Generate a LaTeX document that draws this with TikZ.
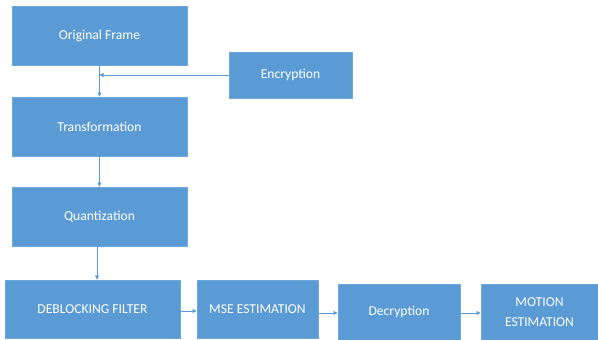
\documentclass[tikz,border=0pt]{standalone}
\usepackage{fontspec}
\setmainfont{Carlito}
\usetikzlibrary{arrows.meta}
\definecolor{boxblue}{HTML}{5B9BD5}
\definecolor{boxedge}{HTML}{6FA8DC}
\definecolor{linkblue}{HTML}{5B9BD5}
\tikzset{
  stepbox/.style={draw=boxedge, line width=0.8pt, fill=boxblue, text=white, font=\fontsize{13.6}{20}\selectfont, align=center, inner sep=0pt},
  link/.style={draw=linkblue, line width=0.6pt, -{Triangle[length=4pt,width=4pt]}},
  plain/.style={draw=linkblue, line width=0.6pt}
}
\begin{document}
\begin{tikzpicture}[x=1pt,y=-1pt]
\useasboundingbox (0,0) rectangle (598,340);
\node[stepbox, minimum width=175pt, minimum height=59pt] (orig) at (99.5,35.5) {Original Frame};
\node[stepbox, minimum width=123pt, minimum height=46pt] (enc) at (290.5,75) {Encryption};
\node[stepbox, minimum width=175pt, minimum height=59pt] (trans) at (99.5,126.5) {Transformation};
\node[stepbox, minimum width=175pt, minimum height=59pt] (quant) at (99.5,216.5) {Quantization};
\node[stepbox, minimum width=175pt, minimum height=58pt] (deblock) at (92.5,309) {DEBLOCKING FILTER};
\node[stepbox, minimum width=121pt, minimum height=58pt] (mse) at (257.5,309) {MSE ESTIMATION};
\node[stepbox, minimum width=122pt, minimum height=56pt] (decr) at (399,312) {Decryption};
\node[stepbox, minimum width=117pt, minimum height=56pt] (motion) at (539.5,312) {MOTION\\ESTIMATION};
\coordinate (join) at (99.5,75);
\draw[link] (orig.south) -- (trans.north);
\draw[link] (enc.west) -- (join);
\draw[link] (trans.south) -- (quant.north);
\draw[link] (quant.south -| 97,0) -- (deblock.north -| 97,0);
\draw[link] (deblock.east |- 0,311) -- (mse.west |- 0,311);
\draw[link] (mse.east |- 0,313) -- (decr.west |- 0,313);
\draw[link] (decr.east |- 0,313) -- (motion.west |- 0,313);
\end{tikzpicture}
\end{document}
